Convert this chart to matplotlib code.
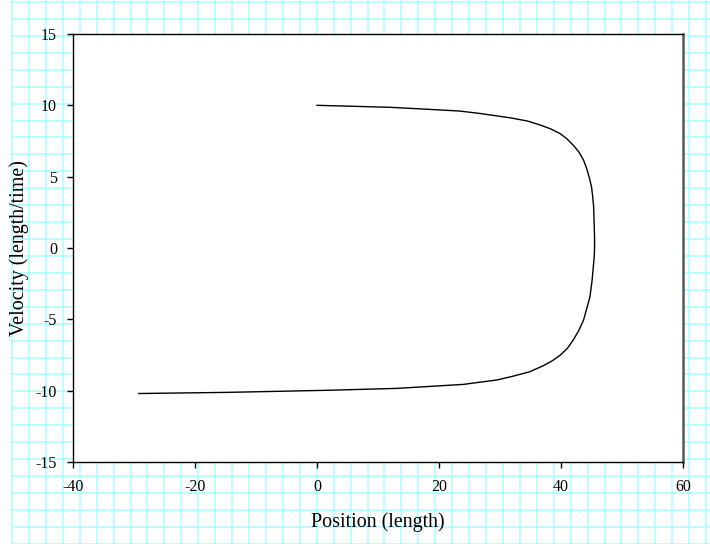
import numpy as np
import matplotlib
matplotlib.use("Agg")
import matplotlib.pyplot as plt

plt.rcParams['font.family'] = ['Liberation Serif', 'DejaVu Serif']
plt.rcParams['axes.unicode_minus'] = False

# position / velocity
position = [0.0, 5.4, 12.0, 17.4, 23.4, 26.7, 31.6, 34.5, 36.6, 38.3, 39.8, 40.9, 42.0, 42.9,
            43.7, 44.2, 44.6, 45.0, 45.2, 45.35, 45.4, 45.5, 45.5, 45.45, 45.3, 45.1,
            44.75, 44.3, 43.7, 42.9, 42.0, 41.05, 39.9, 38.6, 37.1, 34.9, 32.0, 29.5, 24.0,
            13.1, 2.1, -14.8, -29.2]
velocity = [10.0, 9.94, 9.86, 9.74, 9.6, 9.43, 9.13, 8.9, 8.62, 8.35, 8.03, 7.68, 7.21, 6.75,
            6.16, 5.58, 4.99, 4.29, 3.59, 2.89, 2.19, 0.8, 0.0, -0.6, -1.31, -2.25,
            -3.42, -4.12, -5.05, -5.8, -6.45, -7.03, -7.5, -7.9, -8.25, -8.67, -9.0, -9.25, -9.56,
            -9.84, -9.97, -10.12, -10.2]

xticks = [-40, -20, 0, 20, 40, 60]
yticks = [-15, -10, -5, 0, 5, 10, 15]


def graph_paper(fig):
    # cyan squared paper behind everything
    bg = fig.add_axes([0, 0, 1, 1], zorder=0)
    bg.set_xlim(0, 710)
    bg.set_ylim(544, 0)
    bg.axis('off')
    step = 16.93
    bg.vlines(np.arange(12, 710, step), 0, 544, color='#aaffff', lw=1.1)
    bg.hlines(np.arange(2, 544, step), 12, 710, color='#aaffff', lw=1.1)


def main():
    fig = plt.figure(figsize=(7.1, 5.44), dpi=100)
    graph_paper(fig)

    ax = fig.add_axes([73/710, 82/544, 610/710, 428/544], zorder=1)
    ax.set_facecolor('white')
    ax.plot(position, velocity, color='black', lw=1.0, solid_joinstyle='round')

    ax.set_xlim(-40, 60)
    ax.set_ylim(-15, 15)
    ax.set_xticks(xticks)
    ax.set_yticks(yticks)
    ax.tick_params(direction='out', length=4.5, width=1, labelsize=11.5, color='black')
    ax.tick_params(axis='x', pad=8)
    ax.tick_params(axis='y', pad=7)
    for s in ['left', 'bottom', 'top']:
        ax.spines[s].set_linewidth(1.0)
    ax.spines['right'].set_linewidth(1.8)
    ax.spines['right'].set_color('0.35')

    ax.set_xlabel('Position (length)', fontsize=14.4, labelpad=12)
    ax.set_ylabel('Velocity (length/time)', fontsize=14.4, labelpad=5)

    fig.savefig('out.png', dpi=100)
    plt.close(fig)


if __name__ == "__main__":
    main()
